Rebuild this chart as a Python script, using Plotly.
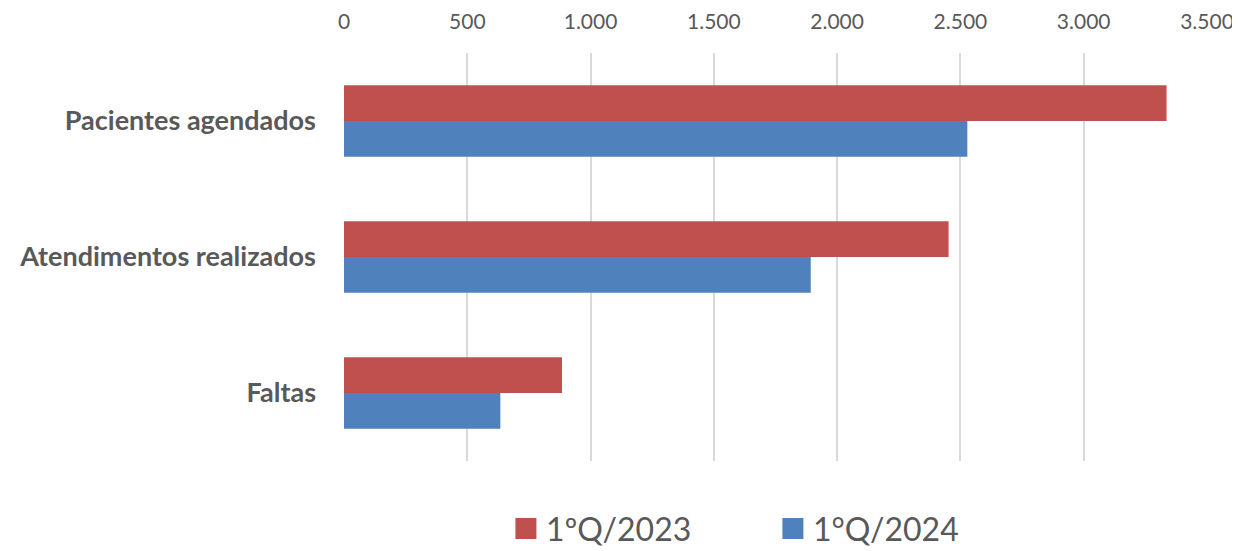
import plotly.graph_objects as go

categories = ["Pacientes agendados", "Atendimentos realizados", "Faltas"]
series_names = ["1ºQ/2023", "1°Q/2024"]
values_2023 = [3336, 2452, 884]
values_2024 = [2528, 1893, 634]
tick_vals = [0, 500, 1000, 1500, 2000, 2500, 3000, 3500]
tick_text = ["0", "500", "1.000", "1.500", "2.000", "2.500", "3.000", "3.500"]

colors = ["#C0504D", "#4F81BD"]

fig = go.Figure()
for name, vals, col in zip(series_names, [values_2023, values_2024], colors):
    fig.add_trace(go.Bar(
        y=categories, x=vals, name=name, orientation="h",
        marker=dict(color=col, line=dict(width=0)),
        showlegend=False,
    ))
# legend entries with larger square swatches
for name, col in zip(series_names, colors):
    fig.add_trace(go.Scatter(
        x=[None], y=[None], mode="markers", name=name,
        marker=dict(symbol="square", size=16, color=col, line=dict(color=col, width=5)),
        showlegend=True, hoverinfo="skip",
    ))

fig.update_layout(
    width=1232, height=543,
    barmode="group", bargap=0.474, bargroupgap=0,
    plot_bgcolor="white", paper_bgcolor="white",
    margin=dict(l=336, r=33, t=45, b=90, autoexpand=False),
    font=dict(family="Lato", color="#595959"),
    legend=dict(orientation="h", x=0.497, xanchor="center", y=-0.166, yanchor="middle",
                font=dict(size=32, color="#595959"), itemsizing="trace",
                traceorder="normal", entrywidth=222, entrywidthmode="pixels"),
    showlegend=True,
)
fig.update_xaxes(
    side="top", range=[0, 3500], tickvals=tick_vals, ticktext=tick_text,
    showgrid=True, gridcolor="#D9D9D9", gridwidth=1.5, zeroline=False,
    showline=False, ticks="", tickfont=dict(size=21, color="#595959"),
    ticklabelstandoff=19, automargin=False,
)
fig.update_yaxes(
    categoryorder="array", categoryarray=categories, autorange="reversed",
    showgrid=False, zeroline=False, showline=False, ticks="",
    tickfont=dict(size=27, color="#595959", family="Lato", weight="bold"),
    ticklabelstandoff=27, automargin=False,
)

fig.write_html("out.html")
